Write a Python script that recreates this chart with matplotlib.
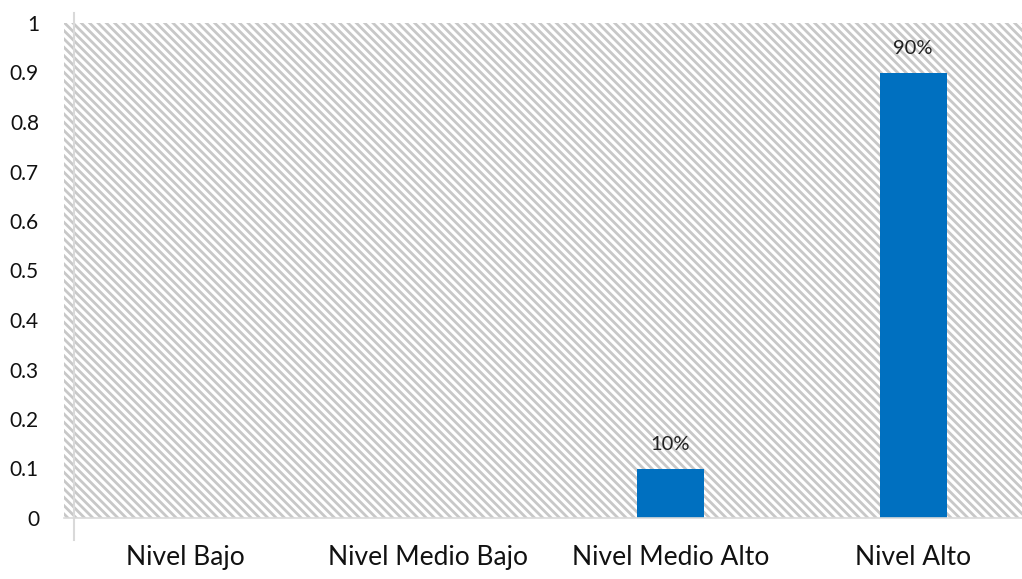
import matplotlib
matplotlib.use("Agg")
import matplotlib.pyplot as plt
from matplotlib.patches import Rectangle
from matplotlib.lines import Line2D

categorias = ["Nivel Bajo", "Nivel Medio Bajo", "Nivel Medio Alto", "Nivel Alto"]
valores = [0.0, 0.0, 0.1, 0.9]
etiquetas = ["", "", "10%", "90%"]
yticks = [0, 0.1, 0.2, 0.3, 0.4, 0.5, 0.6, 0.7, 0.8, 0.9, 1]
ytick_labels = ["0", "0.1", "0.2", "0.3", "0.4", "0.5", "0.6", "0.7", "0.8", "0.9", "1"]

plt.rcParams['font.family'] = ['Lato', 'DejaVu Sans']
plt.rcParams['hatch.linewidth'] = 2.0
plt.rcParams['hatch.color'] = '#c8c8c8'

W, H = 1022, 579
fig = plt.figure(figsize=(W / 100, H / 100), dpi=100)
# area del grafico: x 64 -> 1022, y 23 -> 518 (pixeles)
ax = fig.add_axes([64 / W, 1 - 518 / H, (W - 64) / W, (518 - 23) / H])

# fondo rayado
ax.add_patch(Rectangle((0, 0), 1, 1, transform=ax.transAxes, facecolor='white',
                       edgecolor='#c8c8c8', hatch='\\\\\\\\', linewidth=0, zorder=0))

x = list(range(len(categorias)))
ax.bar(x, valores, width=0.277, color='#0070C0', zorder=2)

for xi, v, lab in zip(x, valores, etiquetas):
    if lab:
        ax.annotate(lab, (xi, v), xytext=(0, 11), textcoords='offset points',
                    ha='center', va='bottom', fontsize=14.5, color='#222222')

ax.set_xlim(-0.5, (W - 185) / 242.7)
ax.set_ylim(0, 1)
ax.set_yticks(yticks)
ax.set_yticklabels(ytick_labels)
ax.set_xticks(x)
ax.set_xticklabels(categorias)
ax.tick_params(axis='y', length=0, pad=18, labelsize=15, labelcolor='#111111')
ax.tick_params(axis='x', length=0, pad=19.5, labelsize=19, labelcolor='#111111')

for s in ['top', 'right', 'left']:
    ax.spines[s].set_visible(False)
ax.spines['bottom'].set_color('#d9d9d9')
ax.spines['bottom'].set_linewidth(1.2)
ax.spines['bottom'].set_zorder(3)

# linea vertical del eje
fig.add_artist(Line2D([74 / W, 74 / W], [1 - 13 / H, 1 - 540 / H],
                      color='#d9d9d9', linewidth=1.5))

fig.savefig("out.png", dpi=100)
